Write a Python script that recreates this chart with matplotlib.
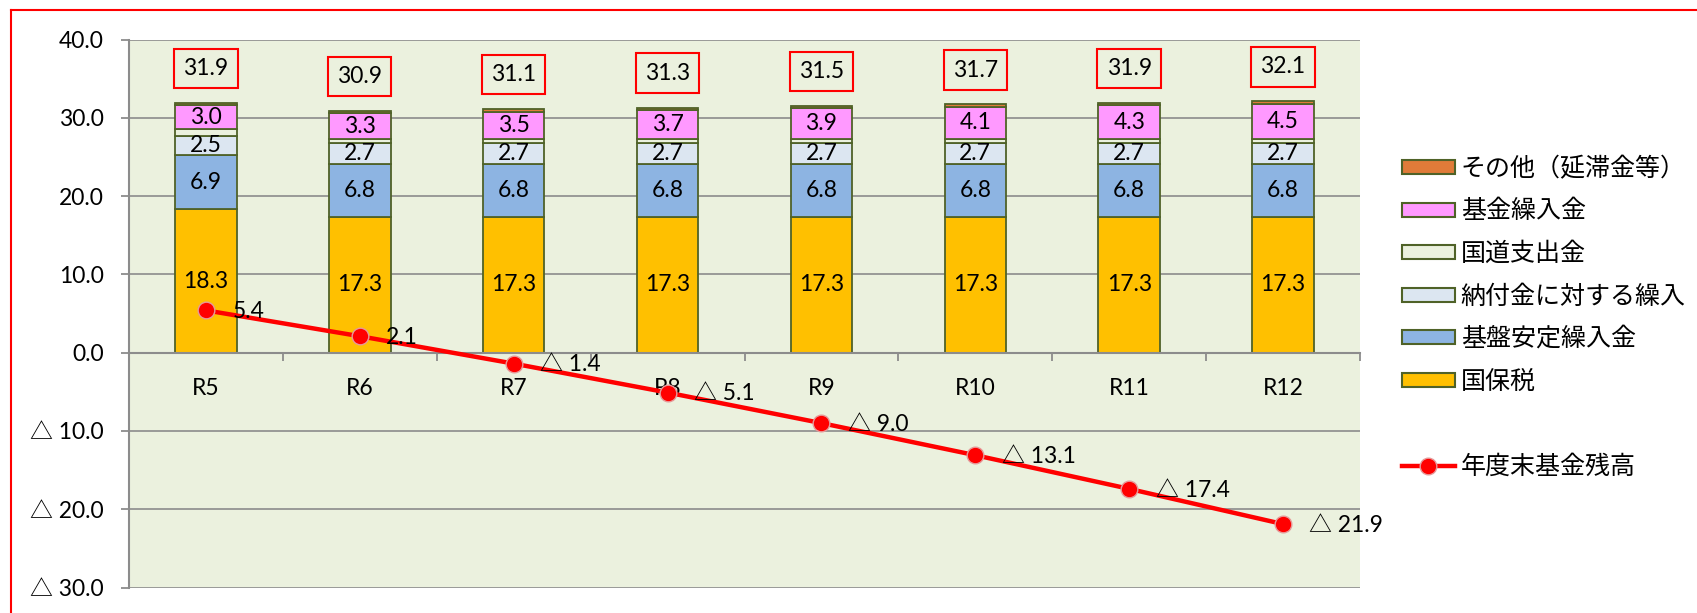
import matplotlib
matplotlib.use("Agg")
import matplotlib.pyplot as plt
import numpy as np
from matplotlib.patches import Patch
from matplotlib.lines import Line2D
from matplotlib.ticker import FuncFormatter, FixedLocator

plt.rcParams['font.family'] = ['Lato', 'Noto Sans CJK JP', 'DejaVu Sans']

years = ['R5', 'R6', 'R7', 'R8', 'R9', 'R10', 'R11', 'R12']
kokuho = [18.3, 17.3, 17.3, 17.3, 17.3, 17.3, 17.3, 17.3]
kiban = [6.9, 6.8, 6.8, 6.8, 6.8, 6.8, 6.8, 6.8]
noufu = [2.5, 2.7, 2.7, 2.7, 2.7, 2.7, 2.7, 2.7]
kokudo = [0.9, 0.5, 0.5, 0.5, 0.5, 0.5, 0.5, 0.5]
kikin = [3.0, 3.3, 3.5, 3.7, 3.9, 4.1, 4.3, 4.5]
sonota = [0.3, 0.3, 0.3, 0.3, 0.3, 0.3, 0.3, 0.3]
totals = [31.9, 30.9, 31.1, 31.3, 31.5, 31.7, 31.9, 32.1]
balance = [5.4, 2.1, -1.4, -5.1, -9.0, -13.1, -17.4, -21.9]

names = ['国保税', '基盤安定繰入金', '納付金に対する繰入', '国道支出金', '基金繰入金', 'その他（延滞金等）']
colors = ['#FFC000', '#8DB4E2', '#DCE6F1', '#EBF1DE', '#FF99FF', '#E07B39']
series = [kokuho, kiban, noufu, kokudo, kikin, sonota]
labeled = [True, True, True, False, True, False]
line_name = '年度末基金残高'

FS = 16.5
W, H = 1697, 613
fig = plt.figure(figsize=(W / 100, H / 100), dpi=100)
ax = fig.add_axes([129 / W, 1 - 587.5 / H, (1360 - 129) / W, (587.5 - 39.5) / H])
ax.set_facecolor('#EBF1DE')

x = np.arange(len(years))
edge = '#4F6228'
bottom = np.zeros(len(years))
for vals, col, lab, name in zip(series, colors, labeled, names):
    ax.bar(x, vals, 0.4, bottom=bottom, color=col, edgecolor=edge, linewidth=1.3, zorder=3, label=name)
    if lab:
        for xi, bt, v in zip(x, bottom, vals):
            ax.text(xi, bt + v / 2, f"{v:.1f}", ha='center', va='center', fontsize=FS, zorder=5)
    bottom = bottom + np.array(vals)

for xi, t in zip(x, totals):
    ax.text(xi, t + 4.4, f"{t:.1f}", ha='center', va='center', fontsize=FS, zorder=5,
            bbox=dict(boxstyle='square,pad=0.4', facecolor='none', edgecolor='#FF0000', linewidth=1.5))

ax.plot(x, balance, color='#FF0000', lw=3.2, marker='o', markersize=12,
        markerfacecolor='#FF0000', markeredgecolor='#E69A9A', markeredgewidth=1.0, zorder=6, label=line_name)
for xi, v in zip(x, balance):
    s = f"{v:.1f}" if v >= 0 else f"△ {-v:.1f}"
    ax.annotate(s, (xi, v), xytext=(19, -1), textcoords='offset points', ha='left', va='center',
                fontsize=FS, zorder=7, annotation_clip=False)

ax.set_xlim(-0.5, len(years) - 0.5)
ax.set_ylim(-30, 40)
ax.yaxis.set_major_locator(FixedLocator(np.arange(-30, 41, 10)))
ax.yaxis.set_major_formatter(FuncFormatter(lambda v, p: f"{v:.1f}" if v >= 0 else f"△ {-v:.1f}"))
ax.grid(axis='y', color='#8C8C8C', linewidth=1.2, zorder=1)
ax.set_axisbelow(True)

for s in ['top', 'right']:
    ax.spines[s].set_visible(False)
ax.spines['left'].set_color('#8C8C8C')
ax.spines['left'].set_linewidth(1.5)
ax.spines['bottom'].set_position(('data', 0))
ax.spines['bottom'].set_color('#8C8C8C')
ax.spines['bottom'].set_linewidth(1.5)
ax.spines['bottom'].set_zorder(4)

ax.set_xticks(x)
ax.set_xticklabels(years)
ax.set_xticks(np.arange(-0.5, len(years), 1), minor=True)
ax.tick_params(axis='x', which='major', length=0, pad=18, labelsize=FS)
ax.tick_params(axis='x', which='minor', length=6, width=1.3, color='#8C8C8C', direction='out')
ax.tick_params(axis='y', length=6, width=1.3, color='#8C8C8C', pad=12, labelsize=FS)

handles = [Patch(facecolor=c, edgecolor=edge, linewidth=1.5) for c in colors][::-1]
labels = names[::-1]
handles.append(Patch(facecolor='none', edgecolor='none'))
labels.append(' ')
handles.append(Line2D([0], [0], color='#FF0000', lw=3.2, marker='o', markersize=12,
                      markerfacecolor='#FF0000', markeredgecolor='#E69A9A'))
labels.append(line_name)
leg = fig.legend(handles, labels, loc='upper left', bbox_to_anchor=(1402 / W, 1 - 156 / H),
                 frameon=False, fontsize=18, handlelength=2.1, handleheight=0.5,
                 handletextpad=0.25, labelspacing=0.66, borderpad=0, borderaxespad=0)
for t in leg.get_texts():
    t.set_fontfamily(['Noto Sans CJK JP', 'DejaVu Sans'])

fig.add_artist(Line2D([11 / W, 11 / W], [0, 1 - 10 / H], color='#FF0000', lw=1.5, transform=fig.transFigure))
fig.add_artist(Line2D([11 / W, 1], [1 - 10 / H, 1 - 10 / H], color='#FF0000', lw=1.5, transform=fig.transFigure))

fig.savefig('out.png', dpi=100)
